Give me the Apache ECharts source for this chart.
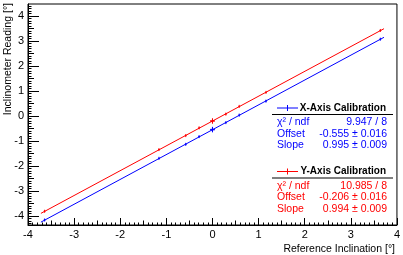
<!DOCTYPE html>
<html><head><meta charset="utf-8">
<script src="https://cdn.jsdelivr.net/npm/echarts@6/dist/echarts.min.js"></script>
<style>html,body{margin:0;padding:0;background:#fff}#c{width:403px;height:255px}</style>
</head><body><div id="c"></div>
<script>
// ---- data ----
var refX   = [-3.64, -1.16, -0.58, -0.29, 0.0, 0.0, 0.29, 0.58, 1.16, 3.64];
var xErr   = [0.02, 0.02, 0.02, 0.02, 0.05, 0.05, 0.02, 0.02, 0.02, 0.02];
var readX  = [-4.17, -1.70, -1.14, -0.83, -0.56, -0.54, -0.27, 0.03, 0.59, 3.07];
var errX   = [0.06, 0.06, 0.06, 0.06, 0.10, 0.10, 0.06, 0.06, 0.06, 0.06];
var readY  = [-3.82, -1.35, -0.79, -0.48, -0.21, -0.20, 0.07, 0.38, 0.94, 3.42];
var errY   = [0.06, 0.06, 0.06, 0.06, 0.10, 0.10, 0.06, 0.06, 0.06, 0.06];
var fitXRange = [-3.72, 3.72];
var fitXLine  = [-4.256, 3.146];
var fitYLine  = [-3.904, 3.492];
var xTickLabels = [-4, -3, -2, -1, 0, 1, 2, 3, 4];
var yTickLabels = [-4, -3, -2, -1, 0, 1, 2, 3, 4];
var statsX = [["\u03c7\u00b2 / ndf", "9.947 / 8"], ["Offset", "-0.555 \u00b1 0.016"], ["Slope", "0.995 \u00b1 0.009"]];
var statsY = [["\u03c7\u00b2 / ndf", "10.985 / 8"], ["Offset", "-0.206 \u00b1 0.016"], ["Slope", "0.994 \u00b1 0.009"]];

var BLUE = '#0000ff', RED = '#ff0000';
var FONT = "'Liberation Sans', Arial, Helvetica, sans-serif";
var XMIN = -4, XMAX = 4, YMIN = -4.37, YMAX = 4.48;

function range(a, b, step) { var r = []; for (var v = a; v <= b + 1e-9; v += step) r.push(Math.round(v * 100) / 100); return r; }
var xHalf = range(-3.5, 3.5, 1), yHalf = range(-3.5, 3.5, 1);
var xMinor = range(-4, 4, 0.1), yMinor = range(-4.3, 4.4, 0.1);

function xAx(vals, len, labels) {
  return { type: 'value', min: XMIN, max: XMAX, position: 'bottom',
    axisLine: { show: labels, onZero: false, lineStyle: { color: '#000', width: 1 } },
    axisTick: { show: true, inside: true, length: len, customValues: vals, lineStyle: { color: '#000' } },
    axisLabel: { show: labels, customValues: labels ? vals : undefined, margin: 4, fontFamily: FONT, fontSize: 11, color: '#000' },
    splitLine: { show: false } };
}
function yAx(vals, len, labels) {
  return { type: 'value', min: YMIN, max: YMAX, position: 'left',
    axisLine: { show: labels, onZero: false, lineStyle: { color: '#000', width: 1 } },
    axisTick: { show: true, inside: true, length: len, customValues: vals, lineStyle: { color: '#000' } },
    axisLabel: { show: labels, customValues: labels ? vals : undefined, margin: 4, fontFamily: FONT, fontSize: 11, color: '#000' },
    splitLine: { show: false } };
}

function crossSeries(xs, xe, ys, ye, color) {
  return { type: 'custom', xAxisIndex: 0, yAxisIndex: 0, z: 5,
    data: xs.map(function (x, i) { return [x, ys[i], xe[i], ye[i]]; }),
    renderItem: function (params, api) {
      var x = api.value(0), y = api.value(1), ex = api.value(2), ey = api.value(3);
      var a = api.coord([x - ex, y]), b = api.coord([x + ex, y]);
      var c = api.coord([x, y - ey]), d = api.coord([x, y + ey]);
      return { type: 'group', children: [
        { type: 'line', shape: { x1: a[0], y1: a[1], x2: b[0], y2: b[1] }, style: { stroke: color, lineWidth: 1 } },
        { type: 'line', shape: { x1: c[0], y1: c[1], x2: d[0], y2: d[1] }, style: { stroke: color, lineWidth: 1 } }
      ] };
    } };
}
function fitSeries(ys, color) {
  return { type: 'line', xAxisIndex: 0, yAxisIndex: 0, showSymbol: false, silent: true, z: 4,
    data: fitXRange.map(function (x, i) { return [x, ys[i]]; }),
    lineStyle: { color: color, width: 1 } };
}

function statsBlock(title, rows, color, yHead, yLine, yRows) {
  var g = [];
  g.push({ type: 'line', shape: { x1: 277, y1: yHead, x2: 298, y2: yHead }, style: { stroke: color, lineWidth: 1 } });
  g.push({ type: 'line', shape: { x1: 287.5, y1: yHead - 3, x2: 287.5, y2: yHead + 3 }, style: { stroke: color, lineWidth: 1 } });
  g.push({ type: 'text', x: 386, y: yHead, style: { text: title, fill: '#000', font: 'bold 10px ' + FONT, textAlign: 'right', textVerticalAlign: 'middle' } });
  g.push({ type: 'line', shape: { x1: 272, y1: yLine, x2: 393, y2: yLine }, style: { stroke: '#000', lineWidth: 1 } });
  rows.forEach(function (r, i) {
    g.push({ type: 'text', x: 277, y: yRows[i], style: { text: r[0], fill: color, font: '10.5px ' + FONT, textAlign: 'left', textVerticalAlign: 'middle' } });
    g.push({ type: 'text', x: 387, y: yRows[i], style: { text: r[1], fill: color, font: '10.5px ' + FONT, textAlign: 'right', textVerticalAlign: 'middle' } });
  });
  return g;
}

var graphics = [].concat(
  statsBlock('X-Axis Calibration', statsX, BLUE, 108, 114.5, [122.5, 134, 145.5]),
  statsBlock('Y-Axis Calibration', statsY, RED, 171.5, 178, [186, 197.5, 209.5]),
  [
    { type: 'text', x: 395, y: 249, style: { text: 'Reference Inclination [\u00b0]', fill: '#000', font: '10.5px ' + FONT, textAlign: 'right', textVerticalAlign: 'middle' } },
    { type: 'text', x: 8, y: 3, rotation: Math.PI / 2, style: { text: 'Inclinometer Reading [\u00b0]', fill: '#000', font: '10.5px ' + FONT, textAlign: 'right', textVerticalAlign: 'middle' } }
  ]
);

var chart = echarts.init(document.getElementById('c'), null, { renderer: 'canvas' });
chart.setOption({
  animation: false,
  backgroundColor: '#fff',
  grid: { left: 28, top: 4, right: 6, bottom: 30, show: true, borderColor: '#000', borderWidth: 1, backgroundColor: 'transparent' },
  xAxis: [xAx(xTickLabels, 7, true), xAx(xHalf, 4.5, false), xAx(xMinor, 2.5, false)],
  yAxis: [yAx(yTickLabels, 11, true), yAx(yHalf, 6, false), yAx(yMinor, 3.5, false)],
  series: [
    fitSeries(fitXLine, BLUE),
    fitSeries(fitYLine, RED),
    crossSeries(refX, xErr, readX, errX, BLUE),
    crossSeries(refX, xErr, readY, errY, RED)
  ],
  graphic: graphics
});
</script></body></html>
